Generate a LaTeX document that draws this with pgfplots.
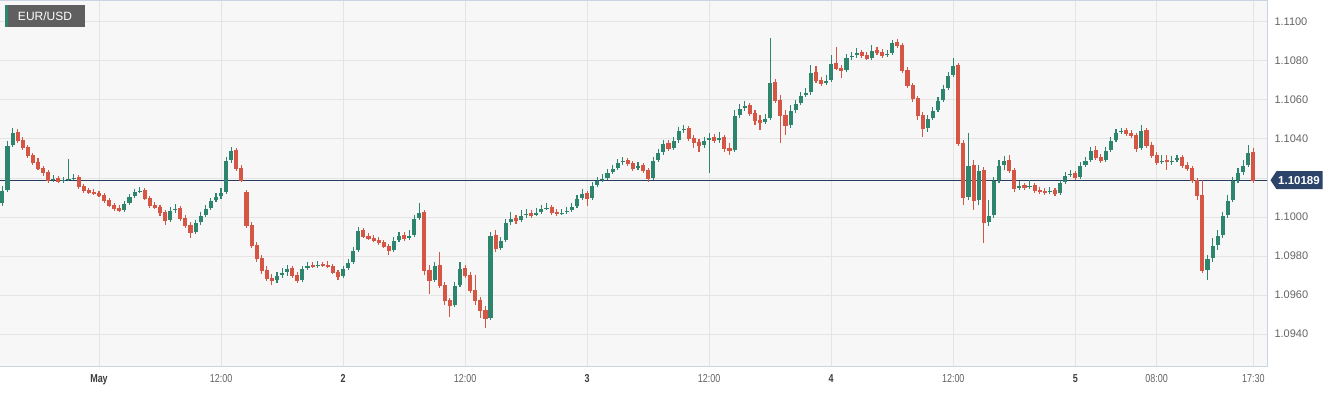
\documentclass[border=0pt]{standalone}
\usepackage{pgfplots}
\pgfplotsset{compat=1.18}
\usepackage{pgfplotstable}
\usepackage{fontspec}
\setmainfont{Liberation Sans}
\newfontfamily\narrowfont[FakeStretch=0.78]{Liberation Sans}
\definecolor{upc}{RGB}{46,133,110}
\definecolor{dnc}{RGB}{214,86,70}
\definecolor{bgc}{RGB}{247,247,247}
\definecolor{gridc}{RGB}{228,228,228}
\definecolor{borderc}{RGB}{202,212,226}
\definecolor{navyc}{RGB}{40,60,95}
\definecolor{tagc}{RGB}{44,68,106}
\definecolor{labc}{RGB}{100,100,100}
\definecolor{daylabc}{RGB}{60,60,60}
\definecolor{boxc}{RGB}{95,95,95}

\pgfplotstableread{
i o h l c u
0 1.10072 1.10159 1.10056 1.10138 1
1 1.10138 1.10390 1.10128 1.10369 1
2 1.10369 1.10456 1.10359 1.10436 1
3 1.10436 1.10451 1.10379 1.10395 0
4 1.10395 1.10410 1.10344 1.10359 0
5 1.10359 1.10369 1.10303 1.10318 0
6 1.10318 1.10328 1.10267 1.10282 0
7 1.10282 1.10303 1.10241 1.10251 0
8 1.10251 1.10262 1.10210 1.10231 0
9 1.10231 1.10241 1.10174 1.10190 0
10 1.10190 1.10215 1.10179 1.10200 1
11 1.10200 1.10210 1.10174 1.10185 0
12 1.10185 1.10205 1.10174 1.10195 1
13 1.10195 1.10297 1.10185 1.10200 1
14 1.10200 1.10221 1.10190 1.10205 1
15 1.10205 1.10215 1.10144 1.10159 0
16 1.10159 1.10169 1.10123 1.10138 0
17 1.10138 1.10149 1.10118 1.10128 0
18 1.10128 1.10144 1.10113 1.10123 0
19 1.10123 1.10133 1.10103 1.10113 0
20 1.10113 1.10123 1.10072 1.10087 0
21 1.10087 1.10097 1.10051 1.10062 0
22 1.10062 1.10072 1.10031 1.10046 0
23 1.10046 1.10062 1.10026 1.10036 0
24 1.10036 1.10082 1.10026 1.10072 1
25 1.10072 1.10118 1.10062 1.10108 1
26 1.10108 1.10144 1.10097 1.10133 1
27 1.10133 1.10154 1.10123 1.10138 1
28 1.10138 1.10149 1.10087 1.10097 0
29 1.10097 1.10108 1.10046 1.10062 0
30 1.10062 1.10077 1.10041 1.10051 0
31 1.10051 1.10062 1.10005 1.10026 0
32 1.10026 1.10036 1.09959 1.09985 0
33 1.09985 1.10051 1.09974 1.10036 1
34 1.10036 1.10067 1.10021 1.10046 1
35 1.10046 1.10056 1.09979 1.09995 0
36 1.09995 1.10010 1.09944 1.09959 0
37 1.09959 1.09974 1.09892 1.09923 0
38 1.09923 1.09985 1.09913 1.09974 1
39 1.09974 1.10026 1.09959 1.10010 1
40 1.10010 1.10062 1.10000 1.10046 1
41 1.10046 1.10097 1.10036 1.10087 1
42 1.10087 1.10123 1.10077 1.10108 1
43 1.10108 1.10149 1.10092 1.10128 1
44 1.10128 1.10308 1.10118 1.10292 1
45 1.10292 1.10359 1.10277 1.10344 1
46 1.10344 1.10354 1.10236 1.10251 0
47 1.10251 1.10267 1.10179 1.10190 0
48 1.10128 1.10138 1.09944 1.09959 0
49 1.09959 1.09974 1.09841 1.09856 0
50 1.09856 1.09872 1.09769 1.09790 0
51 1.09790 1.09805 1.09708 1.09728 0
52 1.09728 1.09749 1.09672 1.09687 0
53 1.09687 1.09708 1.09651 1.09677 0
54 1.09677 1.09718 1.09662 1.09703 1
55 1.09703 1.09738 1.09687 1.09718 1
56 1.09718 1.09754 1.09697 1.09738 1
57 1.09738 1.09749 1.09687 1.09703 0
58 1.09703 1.09718 1.09662 1.09677 0
59 1.09677 1.09749 1.09667 1.09738 1
60 1.09738 1.09769 1.09728 1.09754 1
61 1.09754 1.09769 1.09738 1.09749 0
62 1.09749 1.09774 1.09738 1.09759 1
63 1.09759 1.09769 1.09744 1.09754 0
64 1.09754 1.09774 1.09738 1.09749 0
65 1.09749 1.09759 1.09708 1.09718 0
66 1.09718 1.09728 1.09677 1.09697 0
67 1.09697 1.09749 1.09687 1.09738 1
68 1.09738 1.09785 1.09728 1.09769 1
69 1.09769 1.09846 1.09759 1.09831 1
70 1.09831 1.09949 1.09821 1.09933 1
71 1.09933 1.09944 1.09892 1.09903 0
72 1.09903 1.09918 1.09882 1.09892 0
73 1.09892 1.09908 1.09872 1.09882 0
74 1.09882 1.09897 1.09856 1.09872 0
75 1.09872 1.09882 1.09841 1.09851 0
76 1.09851 1.09862 1.09805 1.09831 0
77 1.09831 1.09897 1.09821 1.09882 1
78 1.09882 1.09923 1.09872 1.09908 1
79 1.09908 1.09923 1.09877 1.09892 0
80 1.09892 1.09933 1.09882 1.09908 1
81 1.09908 1.10010 1.09897 1.09995 1
82 1.09995 1.10072 1.09985 1.10026 1
83 1.10026 1.10036 1.09703 1.09728 0
84 1.09728 1.09754 1.09605 1.09677 0
85 1.09677 1.09769 1.09667 1.09754 1
86 1.09754 1.09821 1.09636 1.09651 0
87 1.09651 1.09667 1.09549 1.09574 0
88 1.09574 1.09585 1.09487 1.09549 0
89 1.09549 1.09667 1.09538 1.09651 1
90 1.09651 1.09769 1.09641 1.09738 1
91 1.09738 1.09754 1.09687 1.09703 0
92 1.09703 1.09718 1.09610 1.09626 0
93 1.09626 1.09703 1.09549 1.09574 0
94 1.09574 1.09590 1.09482 1.09523 0
95 1.09523 1.09544 1.09431 1.09482 0
96 1.09482 1.09923 1.09472 1.09908 1
97 1.09908 1.09933 1.09821 1.09841 0
98 1.09841 1.09897 1.09831 1.09882 1
99 1.09882 1.09990 1.09872 1.09974 1
100 1.09974 1.10026 1.09959 1.09995 1
101 1.09995 1.10010 1.09964 1.09985 0
102 1.09985 1.10036 1.09974 1.10010 1
103 1.10010 1.10041 1.09995 1.10021 1
104 1.10021 1.10036 1.09995 1.10010 0
105 1.10010 1.10046 1.10005 1.10026 1
106 1.10026 1.10062 1.10015 1.10046 1
107 1.10046 1.10072 1.10036 1.10051 1
108 1.10051 1.10062 1.10010 1.10026 0
109 1.10026 1.10041 1.10005 1.10021 0
110 1.10021 1.10041 1.10010 1.10026 1
111 1.10026 1.10051 1.10015 1.10036 1
112 1.10036 1.10072 1.10026 1.10056 1
113 1.10056 1.10113 1.10046 1.10097 1
114 1.10097 1.10144 1.10087 1.10123 1
115 1.10123 1.10133 1.10056 1.10097 0
116 1.10097 1.10179 1.10087 1.10164 1
117 1.10164 1.10205 1.10154 1.10190 1
118 1.10190 1.10221 1.10179 1.10200 1
119 1.10200 1.10246 1.10190 1.10231 1
120 1.10231 1.10267 1.10221 1.10251 1
121 1.10251 1.10297 1.10241 1.10282 1
122 1.10282 1.10308 1.10267 1.10292 1
123 1.10292 1.10303 1.10262 1.10277 0
124 1.10277 1.10287 1.10236 1.10251 0
125 1.10251 1.10282 1.10241 1.10267 1
126 1.10267 1.10277 1.10226 1.10241 0
127 1.10241 1.10251 1.10179 1.10200 0
128 1.10200 1.10308 1.10190 1.10292 1
129 1.10292 1.10349 1.10282 1.10333 1
130 1.10333 1.10395 1.10318 1.10379 1
131 1.10379 1.10395 1.10338 1.10354 0
132 1.10354 1.10410 1.10344 1.10395 1
133 1.10395 1.10462 1.10379 1.10446 1
134 1.10446 1.10472 1.10431 1.10456 1
135 1.10456 1.10467 1.10390 1.10405 0
136 1.10405 1.10421 1.10354 1.10385 0
137 1.10385 1.10400 1.10333 1.10369 0
138 1.10369 1.10410 1.10354 1.10395 1
139 1.10395 1.10431 1.10226 1.10410 1
140 1.10410 1.10426 1.10379 1.10395 0
141 1.10395 1.10436 1.10379 1.10410 1
142 1.10410 1.10421 1.10333 1.10354 0
143 1.10354 1.10379 1.10318 1.10344 0
144 1.10344 1.10549 1.10333 1.10523 1
145 1.10523 1.10579 1.10508 1.10559 1
146 1.10559 1.10595 1.10544 1.10574 1
147 1.10574 1.10585 1.10518 1.10533 0
148 1.10533 1.10549 1.10472 1.10497 0
149 1.10497 1.10523 1.10446 1.10487 0
150 1.10487 1.10528 1.10477 1.10508 1
151 1.10508 1.10918 1.10497 1.10692 1
152 1.10692 1.10708 1.10585 1.10600 0
153 1.10600 1.10626 1.10379 1.10523 0
154 1.10523 1.10549 1.10421 1.10472 0
155 1.10472 1.10574 1.10456 1.10549 1
156 1.10549 1.10600 1.10533 1.10585 1
157 1.10585 1.10641 1.10574 1.10626 1
158 1.10626 1.10662 1.10615 1.10641 1
159 1.10641 1.10779 1.10626 1.10744 1
160 1.10744 1.10774 1.10687 1.10703 0
161 1.10703 1.10718 1.10672 1.10687 0
162 1.10687 1.10728 1.10677 1.10703 1
163 1.10703 1.10831 1.10692 1.10790 1
164 1.10790 1.10872 1.10754 1.10764 0
165 1.10764 1.10779 1.10713 1.10754 0
166 1.10754 1.10836 1.10744 1.10821 1
167 1.10821 1.10846 1.10805 1.10831 1
168 1.10831 1.10867 1.10815 1.10846 1
169 1.10846 1.10856 1.10815 1.10831 0
170 1.10831 1.10846 1.10805 1.10815 0
171 1.10815 1.10882 1.10805 1.10856 1
172 1.10856 1.10872 1.10831 1.10846 0
173 1.10846 1.10862 1.10815 1.10831 0
174 1.10831 1.10856 1.10821 1.10841 1
175 1.10841 1.10908 1.10831 1.10897 1
176 1.10897 1.10913 1.10867 1.10882 0
177 1.10882 1.10892 1.10738 1.10754 0
178 1.10754 1.10769 1.10662 1.10677 0
179 1.10677 1.10687 1.10590 1.10610 0
180 1.10610 1.10620 1.10497 1.10523 0
181 1.10523 1.10538 1.10410 1.10456 0
182 1.10456 1.10523 1.10436 1.10508 1
183 1.10508 1.10564 1.10497 1.10549 1
184 1.10549 1.10615 1.10538 1.10600 1
185 1.10600 1.10677 1.10590 1.10662 1
186 1.10662 1.10744 1.10651 1.10728 1
187 1.10728 1.10815 1.10718 1.10779 1
188 1.10779 1.10790 1.10364 1.10379 0
189 1.10379 1.10395 1.10062 1.10103 0
190 1.10103 1.10431 1.10087 1.10267 1
191 1.10267 1.10292 1.10036 1.10087 0
192 1.10087 1.10267 1.10062 1.10241 1
193 1.10241 1.10256 1.09867 1.09974 0
194 1.09974 1.10087 1.09954 1.10010 1
195 1.10010 1.10205 1.09995 1.10190 1
196 1.10190 1.10292 1.10174 1.10267 1
197 1.10267 1.10313 1.10241 1.10292 1
198 1.10292 1.10318 1.10226 1.10241 0
199 1.10241 1.10251 1.10128 1.10149 0
200 1.10149 1.10185 1.10138 1.10164 1
201 1.10164 1.10174 1.10138 1.10154 0
202 1.10154 1.10190 1.10144 1.10164 1
203 1.10164 1.10174 1.10123 1.10138 0
204 1.10138 1.10154 1.10118 1.10133 0
205 1.10133 1.10149 1.10113 1.10128 0
206 1.10128 1.10154 1.10118 1.10138 1
207 1.10138 1.10149 1.10108 1.10123 0
208 1.10123 1.10190 1.10113 1.10179 1
209 1.10179 1.10231 1.10169 1.10215 1
210 1.10215 1.10241 1.10205 1.10226 1
211 1.10226 1.10236 1.10190 1.10205 0
212 1.10205 1.10282 1.10195 1.10267 1
213 1.10267 1.10308 1.10256 1.10292 1
214 1.10292 1.10359 1.10282 1.10344 1
215 1.10344 1.10364 1.10292 1.10308 0
216 1.10308 1.10323 1.10277 1.10292 0
217 1.10292 1.10359 1.10282 1.10344 1
218 1.10344 1.10410 1.10333 1.10395 1
219 1.10395 1.10451 1.10385 1.10436 1
220 1.10436 1.10456 1.10426 1.10446 1
221 1.10446 1.10456 1.10415 1.10431 0
222 1.10431 1.10446 1.10405 1.10421 0
223 1.10421 1.10431 1.10333 1.10354 0
224 1.10354 1.10472 1.10344 1.10446 1
225 1.10446 1.10456 1.10354 1.10369 0
226 1.10369 1.10385 1.10303 1.10318 0
227 1.10318 1.10333 1.10267 1.10282 0
228 1.10282 1.10318 1.10272 1.10292 1
229 1.10292 1.10318 1.10241 1.10287 0
230 1.10287 1.10313 1.10267 1.10292 1
231 1.10292 1.10318 1.10282 1.10308 1
232 1.10308 1.10318 1.10251 1.10267 0
233 1.10267 1.10282 1.10236 1.10251 0
234 1.10251 1.10262 1.10174 1.10190 0
235 1.10190 1.10200 1.10087 1.10113 0
236 1.10113 1.10190 1.09713 1.09728 0
237 1.09728 1.09805 1.09677 1.09790 1
238 1.09790 1.09892 1.09769 1.09856 1
239 1.09856 1.09933 1.09831 1.09908 1
240 1.09908 1.10026 1.09892 1.10010 1
241 1.10010 1.10113 1.09995 1.10087 1
242 1.10087 1.10205 1.10077 1.10190 1
243 1.10190 1.10251 1.10174 1.10231 1
244 1.10231 1.10292 1.10215 1.10267 1
245 1.10267 1.10369 1.10256 1.10333 1
246 1.10333 1.10354 1.10174 1.10190 0
}\candles

% one candle as a plot mark: wick from low to high, body from open to close
% (offsets in pt: the y axis has 366pt for 0.018769, i.e. 19500pt per unit)
\pgfdeclareplotmark{candle}{%
  \ifdim\cuu pt>0.5pt \pgfsetcolor{upc}\else\pgfsetcolor{dnc}\fi
  \pgfsetlinewidth{1.1pt}%
  \pgfpathmoveto{\pgfqpoint{0pt}{\chh pt}}%
  \pgfpathlineto{\pgfqpoint{0pt}{\cll pt}}%
  \pgfusepathqstroke
  \pgfpathrectanglecorners{\pgfqpoint{-2.05pt}{-0.6pt}}{\pgfqpoint{2.05pt}{\coo pt}}%
  \pgfusepathqfill
}

\begin{document}
\begin{tikzpicture}
\path[use as bounding box] (0pt,-26pt) rectangle (1338pt,366pt);
\begin{axis}[
  at={(0pt,0pt)}, anchor=south west,
  scale only axis, width=1267pt, height=366pt,
  xmin=-0.47, xmax=248.7, ymin=1.092359, ymax=1.111128,
  axis background/.style={fill=bgc},
  axis line style={borderc, line width=1pt},
  grid=major, major grid style={gridc, line width=1pt},
  major tick length=0pt,
  xtick={19,43,67,91,115,139,163,187,211,227,246},
  xticklabels={{\bfseries\color{daylabc}May},12:00,{\bfseries\color{daylabc}2},12:00,{\bfseries\color{daylabc}3},12:00,{\bfseries\color{daylabc}4},12:00,{\bfseries\color{daylabc}5},08:00,17:30},
  xticklabel style={font=\narrowfont\fontsize{11.5}{13}\selectfont, text=labc, yshift=-5pt},
  ytick={1.094,1.096,1.098,1.100,1.102,1.104,1.106,1.108,1.110},
  yticklabels={1.0940,1.0960,1.0980,1.1000,{},1.1040,1.1060,1.1080,1.1100},
  yticklabel pos=right,
  yticklabel style={font=\fontsize{11}{12}\selectfont, text=labc, xshift=4pt},
]
\addplot[only marks, mark=candle,
  visualization depends on={19500*(\thisrow{h}-\thisrow{c}) \as \chh},
  visualization depends on={19500*(\thisrow{l}-\thisrow{c}) \as \cll},
  visualization depends on={19500*(\thisrow{o}-\thisrow{c}) \as \coo},
  visualization depends on={\thisrow{u} \as \cuu},
] table[x=i, y=c] {\candles};
\addplot[navyc, line width=1.2pt] coordinates {(-1,1.10189) (250,1.10189)};
\coordinate (tagtip) at (axis cs:248.7,1.10189);
\end{axis}
\fill[tagc] ([xshift=3.5pt]tagtip) -- ++(6pt,9pt) -- ++(46pt,0pt) -- ++(0pt,-18pt) -- ++(-46pt,0pt) -- cycle;
\node[text=white, font=\bfseries\fontsize{11.5}{13}\selectfont, inner sep=0pt] at ([xshift=32pt]tagtip) {1.10189};
\fill[boxc] (5pt,339pt) rectangle (85pt,361pt);
\fill[upc] (5pt,339pt) rectangle (7.5pt,361pt);
\node[text=white, font=\fontsize{12}{14}\selectfont, inner sep=0pt] at (45pt,350pt) {EUR/USD};
\end{tikzpicture}
\end{document}
